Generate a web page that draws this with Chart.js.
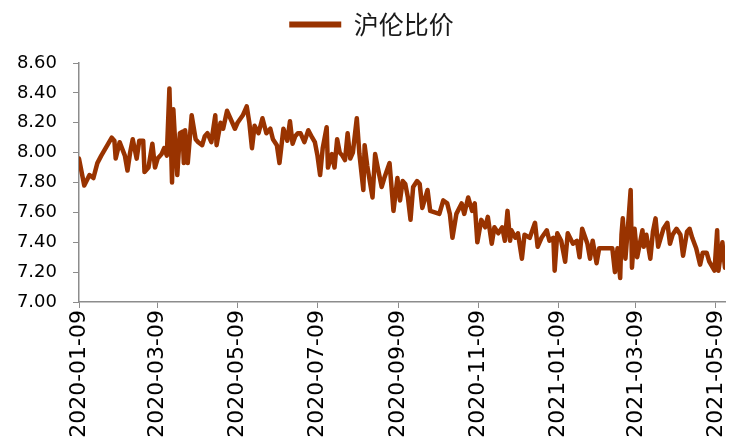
<!DOCTYPE html>
<html>
<head>
<meta charset="utf-8">
<script src="https://cdn.jsdelivr.net/npm/chart.js@4/dist/chart.umd.min.js"></script>
<style>
  html, body { margin: 0; padding: 0; background: #fff; }
  #wrap { width: 729px; height: 445px; position: relative; }
</style>
</head>
<body>
<div id="wrap"><canvas id="ratioChart"></canvas></div>
<script>
// ============================================
// Data
// ============================================
const seriesName = '沪伦比价';

const dates = [
    '2020-01-09', '2020-01-13', '2020-01-17', '2020-01-20', '2020-01-23', '2020-01-26',
    '2020-02-03', '2020-02-05', '2020-02-06', '2020-02-09', '2020-02-13', '2020-02-15',
    '2020-02-17', '2020-02-19', '2020-02-22', '2020-02-24', '2020-02-27', '2020-02-28',
    '2020-03-02', '2020-03-05', '2020-03-07', '2020-03-09', '2020-03-12', '2020-03-14',
    '2020-03-16', '2020-03-18', '2020-03-20', '2020-03-21', '2020-03-22', '2020-03-24',
    '2020-03-26', '2020-03-28', '2020-03-29', '2020-03-30',
    '2020-04-01', '2020-04-04', '2020-04-07', '2020-04-09', '2020-04-12', '2020-04-14',
    '2020-04-16', '2020-04-19', '2020-04-22', '2020-04-23', '2020-04-26', '2020-04-28',
    '2020-05-01', '2020-05-05', '2020-05-07', '2020-05-09', '2020-05-13', '2020-05-16',
    '2020-05-18', '2020-05-20', '2020-05-22', '2020-05-25', '2020-05-28', '2020-05-31',
    '2020-06-03', '2020-06-05', '2020-06-08', '2020-06-10', '2020-06-13', '2020-06-16',
    '2020-06-18', '2020-06-20', '2020-06-22', '2020-06-24',
    '2020-06-26', '2020-06-29', '2020-07-02', '2020-07-05', '2020-07-07', '2020-07-09',
    '2020-07-11', '2020-07-13', '2020-07-16', '2020-07-17', '2020-07-20', '2020-07-22',
    '2020-07-24', '2020-07-26', '2020-07-28', '2020-07-30', '2020-08-01', '2020-08-03',
    '2020-08-05', '2020-08-08', '2020-08-10', '2020-08-13', '2020-08-14', '2020-08-16',
    '2020-08-20', '2020-08-22', '2020-08-24', '2020-08-27', '2020-08-29', '2020-09-02',
    '2020-09-05', '2020-09-08', '2020-09-10', '2020-09-12',
    '2020-09-14', '2020-09-16', '2020-09-18', '2020-09-20', '2020-09-23', '2020-09-25',
    '2020-09-27', '2020-10-01', '2020-10-03', '2020-10-10', '2020-10-13', '2020-10-16',
    '2020-10-18', '2020-10-20', '2020-10-23', '2020-10-27', '2020-10-29', '2020-11-01',
    '2020-11-04', '2020-11-06', '2020-11-08', '2020-11-11', '2020-11-14', '2020-11-16',
    '2020-11-19', '2020-11-21', '2020-11-24', '2020-11-27', '2020-11-29',
    '2020-12-01', '2020-12-03', '2020-12-04', '2020-12-07', '2020-12-09', '2020-12-12',
    '2020-12-14', '2020-12-18', '2020-12-22', '2020-12-24', '2020-12-27', '2020-12-31',
    '2021-01-02', '2021-01-05', '2021-01-06', '2021-01-08', '2021-01-11', '2021-01-14',
    '2021-01-16', '2021-01-20', '2021-01-23', '2021-01-25', '2021-01-27', '2021-01-31',
    '2021-02-02', '2021-02-04', '2021-02-07', '2021-02-09', '2021-02-13', '2021-02-17',
    '2021-02-19', '2021-02-21', '2021-02-23', '2021-02-25', '2021-02-26', '2021-02-27',
    '2021-03-01', '2021-03-03', '2021-03-05', '2021-03-06', '2021-03-08', '2021-03-10',
    '2021-03-14', '2021-03-15', '2021-03-17', '2021-03-20', '2021-03-22', '2021-03-24',
    '2021-03-26', '2021-03-30', '2021-04-02', '2021-04-04', '2021-04-06', '2021-04-09',
    '2021-04-12', '2021-04-14', '2021-04-17', '2021-04-19', '2021-04-21', '2021-04-24',
    '2021-04-27', '2021-04-29', '2021-05-02', '2021-05-04', '2021-05-08', '2021-05-10',
    '2021-05-11', '2021-05-14', '2021-05-15', '2021-05-16'
];

const ratios = [
    7.96, 7.78, 7.85, 7.83, 7.93, 7.98,
    8.10, 8.08, 7.96, 8.07, 7.98, 7.88,
    8.00, 8.09, 7.96, 8.08, 8.08, 7.87,
    7.90, 8.06, 7.90, 7.96, 7.99, 8.03,
    7.98, 8.43, 7.80, 8.29, 8.13, 7.85,
    8.13, 8.14, 7.93, 8.15,
    7.93, 8.25, 8.09, 8.07, 8.05, 8.11,
    8.13, 8.07, 8.25, 8.05, 8.20, 8.16,
    8.28, 8.20, 8.16, 8.20, 8.25, 8.31,
    8.20, 8.03, 8.18, 8.13, 8.23, 8.13,
    8.16, 8.09, 8.05, 7.93, 8.16, 8.08,
    8.21, 8.06, 8.11, 8.13,
    8.13, 8.07, 8.15, 8.10, 8.07, 7.98,
    7.85, 8.03, 8.17, 7.90, 7.99, 7.90,
    8.09, 8.00, 7.98, 7.95, 8.13, 7.96,
    8.00, 8.23, 7.99, 7.75, 8.05, 7.91,
    7.70, 7.99, 7.90, 7.77, 7.83, 7.93,
    7.61, 7.83, 7.68, 7.81,
    7.79, 7.70, 7.55, 7.77, 7.81, 7.79,
    7.63, 7.75, 7.61, 7.59, 7.68, 7.66,
    7.59, 7.43, 7.59, 7.66, 7.59, 7.70,
    7.61, 7.66, 7.40, 7.55, 7.50, 7.57,
    7.39, 7.50, 7.46, 7.50, 7.41,
    7.61, 7.41, 7.48, 7.43, 7.46, 7.29,
    7.45, 7.43, 7.53, 7.37, 7.43, 7.48,
    7.41, 7.43, 7.21, 7.46, 7.41, 7.27,
    7.46, 7.39, 7.41, 7.30, 7.49, 7.39,
    7.29, 7.41, 7.26, 7.36, 7.36, 7.36,
    7.36, 7.20, 7.36, 7.16, 7.45, 7.56,
    7.29, 7.51, 7.75, 7.23, 7.49, 7.30,
    7.48, 7.37, 7.45, 7.29, 7.47, 7.56,
    7.37, 7.49, 7.53, 7.39, 7.45, 7.49,
    7.45, 7.31, 7.47, 7.49, 7.43, 7.36,
    7.25, 7.33, 7.33, 7.27, 7.21, 7.48,
    7.21, 7.40, 7.31, 7.23
];

const xTickDates = [
    '2020-01-09', '2020-03-09', '2020-05-09', '2020-07-09', '2020-09-09',
    '2020-11-09', '2021-01-09', '2021-03-09', '2021-05-09'
];

const yTicks = [7.00, 7.20, 7.40, 7.60, 7.80, 8.00, 8.20, 8.40, 8.60];

// ============================================
// Helpers
// ============================================
const DAY_MS = 86400000;
const BASE = Date.parse(dates[0] + 'T00:00:00Z');

function dayOf(str) {
    return Math.round((Date.parse(str + 'T00:00:00Z') - BASE) / DAY_MS);
}

function labelOf(day) {
    return new Date(BASE + day * DAY_MS).toISOString().slice(0, 10);
}

const AXIS_GREY = '#8c8c8c';
const LINE_COLOR = '#993300';

// leave extra room between the legend and the plot
const legendGap = {
    id: 'legendGap',
    beforeLayout(chart) {
        const lg = chart.legend;
        if (lg && !lg._gapPatched) {
            const fit = lg.fit;
            lg.fit = function() {
                fit.call(this);
                this.height += 16;
            };
            lg._gapPatched = true;
        }
    }
};

// ============================================
// Chart
// ============================================
const points = dates.map((d, i) => ({ x: dayOf(d), y: ratios[i] }));

new Chart(document.getElementById('ratioChart').getContext('2d'), {
    type: 'line',
    data: {
        datasets: [{
            label: seriesName,
            data: points,
            borderColor: LINE_COLOR,
            backgroundColor: LINE_COLOR,
            borderWidth: 4.5,
            borderJoinStyle: 'round',
            borderCapStyle: 'round',
            pointRadius: 0,
            tension: 0
        }]
    },
    options: {
        responsive: true,
        maintainAspectRatio: false,
        animation: false,
        layout: { padding: { left: 18, right: 4, top: 2, bottom: 0 } },
        plugins: {
            tooltip: { enabled: false },
            legend: {
                position: 'top',
                labels: {
                    boxWidth: 52,
                    boxHeight: 6,
                    padding: 10,
                    color: '#1a1a1a',
                    font: { family: '"Noto Sans CJK SC", sans-serif', size: 25 },
                    generateLabels: function(chart) {
                        const items = Chart.defaults.plugins.legend.labels.generateLabels(chart);
                        items.forEach(it => { it.lineWidth = 0; });
                        return items;
                    }
                }
            }
        },
        scales: {
            x: {
                type: 'linear',
                min: 0,
                max: dayOf(dates[dates.length - 1]),
                afterBuildTicks: function(scale) {
                    scale.ticks = xTickDates.map(s => ({ value: dayOf(s) }));
                },
                afterFit: function(scale) {
                    scale.height = 143;
                    scale.paddingRight = 4;
                },
                grid: { drawOnChartArea: false, drawTicks: true, tickLength: 6, color: AXIS_GREY },
                border: { color: AXIS_GREY, width: 1.5 },
                ticks: {
                    autoSkip: false,
                    minRotation: 90,
                    maxRotation: 90,
                    padding: 2,
                    color: '#000',
                    font: { family: '"DejaVu Sans", sans-serif', size: 22 },
                    callback: function(value) { return labelOf(value); }
                }
            },
            y: {
                min: yTicks[0],
                max: yTicks[yTicks.length - 1],
                afterBuildTicks: function(scale) {
                    scale.ticks = yTicks.map(v => ({ value: v }));
                },
                afterFit: function(scale) { scale.width = 61; },
                grid: { drawOnChartArea: false, drawTicks: true, tickLength: 6, color: AXIS_GREY },
                border: { color: AXIS_GREY, width: 1.5 },
                ticks: {
                    padding: 16,
                    color: '#000',
                    font: { family: '"DejaVu Sans", sans-serif', size: 18 },
                    callback: function(value) { return Number(value).toFixed(2); }
                }
            }
        }
    },
    plugins: [legendGap]
});
</script>
</body>
</html>
